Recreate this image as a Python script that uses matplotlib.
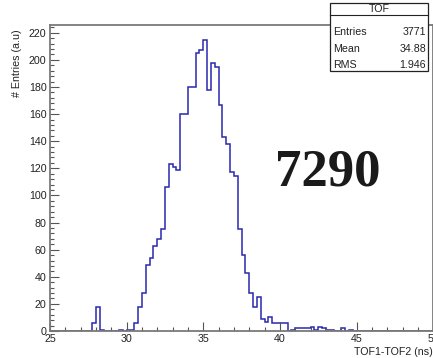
import numpy as np
import matplotlib
matplotlib.use("Agg")
import matplotlib.pyplot as plt
from matplotlib.patches import Rectangle
from matplotlib.ticker import MultipleLocator

# TOF1-TOF2 histogram, 0.25 ns bins from 25 to 50 ns (only filled bins listed)
bin_low = [27.75, 28.0, 28.25, 29.5, 30.0, 30.25,
           30.5, 30.75, 31.0, 31.25, 31.5, 31.75, 32.0, 32.25,
           32.5, 32.75, 33.0, 33.25, 33.5, 33.75, 34.0, 34.25,
           34.5, 34.75, 35.0, 35.25, 35.5, 35.75, 36.0, 36.25,
           36.5, 36.75, 37.0, 37.25, 37.5, 37.75, 38.0, 38.25,
           38.5, 38.75, 39.0, 39.25, 39.5, 39.75, 40.0, 40.25,
           40.75, 41.0, 41.25, 41.5, 41.75, 42.0, 42.25, 42.5,
           42.75, 43.0, 43.25, 44.0, 44.5]
counts = [6, 18, 1, 1, 1, 1,
          6, 18, 28, 49, 54, 63, 68, 75,
          106, 123, 121, 119, 160, 160, 180, 180,
          205, 207, 215, 178, 198, 195, 167, 143,
          138, 117, 114, 75, 56, 43, 28, 18,
          25, 9, 7, 10, 6, 6, 6, 6,
          1, 2, 2, 2, 2, 3, 1, 3,
          2, 1, 1, 2, 1]

hist_name = "TOF"
stat_names = ["Entries", "Mean", "RMS"]
stat_values = ["3771", "34.88", "1.946"]
run_label = "7290"

x_min, x_max, bin_w = 25.0, 50.0, 0.25
edges = np.arange(x_min, x_max + bin_w / 2, bin_w)
h = np.zeros(len(edges) - 1)
for lo, c in zip(bin_low, counts):
    h[int(round((lo - x_min) / bin_w))] = c

W, H = 433, 358
fig = plt.figure(figsize=(W / 100, H / 100), dpi=100)
fig.patch.set_facecolor("white")

def fx(px):
    return px / W

def fy(py):
    return 1 - py / H

ax_l, ax_r, ax_t, ax_b = 50, 433.3, 25, 331
ax = fig.add_axes([fx(ax_l), fy(ax_b), fx(ax_r - ax_l), (ax_b - ax_t) / H])
ax.stairs(h, edges, color="#2828b0", lw=1.1, zorder=1)
ax.set_xlim(x_min, x_max)
ax.set_ylim(0, 1.05 * max(counts))

font = "Liberation Sans"
for s in ax.spines.values():
    s.set_color("#7a7a7a")
    s.set_linewidth(1.3)
    s.set_zorder(3)
ax.xaxis.set_major_locator(MultipleLocator(5))
ax.xaxis.set_minor_locator(MultipleLocator(1))
ax.yaxis.set_major_locator(MultipleLocator(20))
ax.yaxis.set_minor_locator(MultipleLocator(4))
ax.tick_params(which="both", direction="in", color="#555555", width=0.8,
               top=False, right=False, labelsize=7.7, labelcolor="#222222")
ax.tick_params(which="major", length=6.5, pad=2.5)
ax.tick_params(which="minor", length=3.2)
for lab in ax.get_xticklabels() + ax.get_yticklabels():
    lab.set_fontfamily(font)

fig.text(fx(433), fy(352), "TOF1-TOF2 (ns)", ha="right", va="center",
         fontsize=7.7, family=font, color="#222222")
fig.text(fx(17), fy(29), "# Entries (a.u)", ha="center", va="top",
         rotation=90, fontsize=7.7, family=font, color="#222222")

# stats box
bx0, bx1, by0, by1, bsep = 330, 428, 3, 71, 15
fig.add_artist(Rectangle((fx(bx0), fy(by1)), fx(bx1 - bx0), (by1 - by0) / H,
                         transform=fig.transFigure, facecolor="white",
                         edgecolor="#222222", lw=0.9, zorder=5))
fig.add_artist(plt.Line2D([fx(bx0), fx(bx1)], [fy(bsep), fy(bsep)],
                          transform=fig.transFigure, color="#222222",
                          lw=0.8, zorder=6))
fig.text(fx((bx0 + bx1) / 2), fy(9), hist_name, ha="center", va="center",
         fontsize=7.7, family=font, color="#222222", zorder=7)
for i, (n, v) in enumerate(zip(stat_names, stat_values)):
    yy = fy(32 + i * 16.5)
    fig.text(fx(bx0 + 3), yy, n, ha="left", va="center", fontsize=7.7,
             family=font, color="#222222", zorder=7)
    fig.text(fx(bx1 - 2), yy, v, ha="right", va="center", fontsize=7.7,
             family=font, color="#222222", zorder=7)

# run number
fig.text(fx(327.5), fy(172.5), run_label, ha="center", va="center",
         fontsize=38, fontweight="bold", family="Liberation Serif",
         color="#1a1a1a")

fig.savefig("out.png", dpi=100)
